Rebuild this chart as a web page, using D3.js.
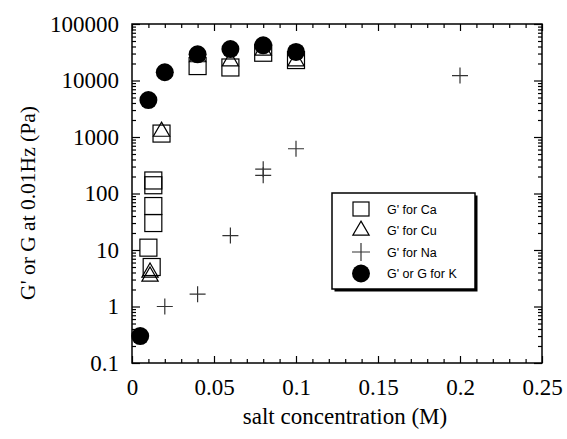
<!DOCTYPE html>
<html>
<head>
<meta charset="utf-8">
<script src="https://cdn.jsdelivr.net/npm/d3@7"></script>
<style>
  body { margin: 0; background: #fff; }
  svg { display: block; }
</style>
</head>
<body>
<div id="vis"></div>
<script>
const FRAME_WIDTH = 567;
const FRAME_HEIGHT = 439;
const MARGINS = {left: 132, right: 25, top: 24, bottom: 76};
const VIS_WIDTH = FRAME_WIDTH - MARGINS.left - MARGINS.right;
const VIS_HEIGHT = FRAME_HEIGHT - MARGINS.top - MARGINS.bottom;

// data (x = salt concentration in M, y = modulus in Pa)
const caX = [0.013, 0.013, 0.013, 0.013, 0.01, 0.012, 0.018, 0.04, 0.06, 0.08, 0.1];
const caY = [170, 140, 60, 30, 11, 5, 1150, 18000, 17000, 31000, 23000];
const cuX = [0.011, 0.011, 0.018, 0.04, 0.06, 0.08, 0.1];
const cuY = [4, 3.4, 1250, 26000, 22000, 34000, 22000];
const naX = [0.02, 0.04, 0.06, 0.08, 0.08, 0.1, 0.2];
const naY = [1, 1.65, 18, 270, 210, 620, 12200];
const kX = [0.005, 0.01, 0.02, 0.04, 0.06, 0.08, 0.1];
const kY = [0.3, 4500, 14000, 29000, 36000, 42000, 32000];

const xTicks = [0, 0.05, 0.1, 0.15, 0.2, 0.25];
const xTickLabels = ["0", "0.05", "0.1", "0.15", "0.2", "0.25"];
const yTicks = [0.1, 1, 10, 100, 1000, 10000, 100000];
const yTickLabels = ["0.1", "1", "10", "100", "1000", "10000", "100000"];
const legendLabels = ["G' for Ca", "G' for Cu", "G' for Na", "G' or G for K"];
const xTitle = "salt concentration (M)";
const yTitle = "G' or G at 0.01Hz (Pa)";

const zip = (xs, ys) => xs.map((x, i) => ({x: x, y: ys[i]}));

const svg = d3.select('#vis')
  .append('svg')
    .attr('width', FRAME_WIDTH)
    .attr('height', FRAME_HEIGHT);

const X_SCALE = d3.scaleLinear().domain([0, 0.25]).range([0, VIS_WIDTH]);
const Y_SCALE = d3.scaleLog().domain([0.1, 100000]).range([VIS_HEIGHT, 0]);

const g = svg.append('g')
  .attr('transform', 'translate(' + MARGINS.left + ',' + MARGINS.top + ')');

// minor tick positions
const xMinor = d3.range(0, 26).map(i => i / 100).filter(v => Math.round(v * 100) % 5 != 0);
const yMinor = [];
yTicks.slice(0, -1).forEach(d => { for (let k = 2; k <= 9; k++) yMinor.push(d * k); });

function styleAxis(sel) {
  sel.select('.domain').remove();
  sel.selectAll('line').attr('stroke', '#000').attr('stroke-width', 1.2);
}

// bottom axis
g.append('g')
  .attr('transform', 'translate(0,' + VIS_HEIGHT + ')')
  .call(d3.axisBottom(X_SCALE).tickValues(xTicks).tickSize(-7).tickPadding(16)
    .tickFormat((d, i) => xTickLabels[i]))
  .call(styleAxis)
  .selectAll('text')
    .attr('font-family', 'Liberation Serif, Times New Roman, serif')
    .attr('font-size', '23px')
    .attr('fill', '#000');
g.append('g')
  .attr('transform', 'translate(0,' + VIS_HEIGHT + ')')
  .call(d3.axisBottom(X_SCALE).tickValues(xMinor).tickSize(-4).tickFormat(''))
  .call(styleAxis);

// top axis
g.append('g')
  .call(d3.axisTop(X_SCALE).tickValues(xTicks).tickSize(-7).tickFormat(''))
  .call(styleAxis);
g.append('g')
  .call(d3.axisTop(X_SCALE).tickValues(xMinor).tickSize(-4).tickFormat(''))
  .call(styleAxis);

// left axis
g.append('g')
  .call(d3.axisLeft(Y_SCALE).tickValues(yTicks).tickSize(-8).tickPadding(13)
    .tickFormat((d, i) => yTickLabels[i]))
  .call(styleAxis)
  .selectAll('text')
    .attr('font-family', 'Liberation Serif, Times New Roman, serif')
    .attr('font-size', '23px')
    .attr('fill', '#000');
g.append('g')
  .call(d3.axisLeft(Y_SCALE).tickValues(yMinor).tickSize(-4).tickFormat(''))
  .call(styleAxis);

// right axis
g.append('g')
  .attr('transform', 'translate(' + VIS_WIDTH + ',0)')
  .call(d3.axisRight(Y_SCALE).tickValues(yTicks).tickSize(-8).tickFormat(''))
  .call(styleAxis);
g.append('g')
  .attr('transform', 'translate(' + VIS_WIDTH + ',0)')
  .call(d3.axisRight(Y_SCALE).tickValues(yMinor).tickSize(-4).tickFormat(''))
  .call(styleAxis);

// frame
g.append('rect')
  .attr('width', VIS_WIDTH)
  .attr('height', VIS_HEIGHT)
  .attr('fill', 'none')
  .attr('stroke', '#000')
  .attr('stroke-width', 1.5);

// axis titles
svg.append('text')
  .attr('x', 345)
  .attr('y', 424)
  .attr('text-anchor', 'middle')
  .attr('font-family', 'Liberation Serif, Times New Roman, serif')
  .attr('font-size', '23px')
  .text(xTitle);

svg.append('text')
  .attr('transform', 'translate(35,203) rotate(-90)')
  .attr('text-anchor', 'middle')
  .attr('font-family', 'Liberation Serif, Times New Roman, serif')
  .attr('font-size', '21.5px')
  .text(yTitle);

// marker drawing helpers
const SQ = 17;
const triPath = d3.symbol().type(d3.symbolTriangle).size(115)();
const PLUS = 8;

function squares(sel, data) {
  sel.selectAll(null).data(data).enter().append('rect')
    .attr('x', d => X_SCALE(d.x) - SQ / 2)
    .attr('y', d => Y_SCALE(d.y) - SQ / 2)
    .attr('width', SQ).attr('height', SQ)
    .attr('fill', 'none').attr('stroke', '#000').attr('stroke-width', 1.2);
}
function triangles(sel, data) {
  sel.selectAll(null).data(data).enter().append('path')
    .attr('transform', d => 'translate(' + X_SCALE(d.x) + ',' + Y_SCALE(d.y) + ')')
    .attr('d', triPath)
    .attr('fill', 'none').attr('stroke', '#000').attr('stroke-width', 1.2);
}
function pluses(sel, data) {
  sel.selectAll(null).data(data).enter().append('path')
    .attr('d', d => {
      const cx = X_SCALE(d.x), cy = Y_SCALE(d.y);
      return 'M' + (cx - PLUS) + ',' + cy + 'H' + (cx + PLUS) + 'M' + cx + ',' + (cy - PLUS) + 'V' + (cy + PLUS);
    })
    .attr('stroke', '#333').attr('stroke-width', 1.2);
}
function dots(sel, data) {
  sel.selectAll(null).data(data).enter().append('circle')
    .attr('cx', d => X_SCALE(d.x))
    .attr('cy', d => Y_SCALE(d.y))
    .attr('r', 9)
    .attr('fill', '#000');
}

squares(g.append('g'), zip(caX, caY));
triangles(g.append('g'), zip(cuX, cuY));
pluses(g.append('g'), zip(naX, naY));
dots(g.append('g'), zip(kX, kY));

// legend
const LEG = {x: 332, y: 193, w: 143, h: 96};
const legend = svg.append('g');
legend.append('rect')
  .attr('x', LEG.x + 2.5).attr('y', LEG.y + 2.5)
  .attr('width', LEG.w).attr('height', LEG.h)
  .attr('fill', '#000');
legend.append('rect')
  .attr('x', LEG.x).attr('y', LEG.y)
  .attr('width', LEG.w).attr('height', LEG.h)
  .attr('fill', '#fff').attr('stroke', '#000').attr('stroke-width', 1.5);

const rows = legend.selectAll('g.row').data(legendLabels).enter().append('g')
  .attr('transform', (d, i) => 'translate(361,' + (209 + i * 21.5) + ')');
rows.append('text')
  .attr('x', 26)
  .attr('y', 4.5)
  .attr('font-family', 'Liberation Sans, Arial, sans-serif')
  .attr('font-size', '12.5px')
  .text(d => d);
rows.filter((d, i) => i == 0).append('rect')
  .attr('x', -8).attr('y', -7).attr('width', 16).attr('height', 14)
  .attr('fill', 'none').attr('stroke', '#000').attr('stroke-width', 1.2);
rows.filter((d, i) => i == 1).append('path')
  .attr('d', triPath)
  .attr('fill', 'none').attr('stroke', '#000').attr('stroke-width', 1.2);
rows.filter((d, i) => i == 2).append('path')
  .attr('d', 'M-9,0H9M0,-9V9')
  .attr('stroke', '#333').attr('stroke-width', 1.2);
rows.filter((d, i) => i == 3).append('circle')
  .attr('r', 9).attr('fill', '#000');
</script>
</body>
</html>
